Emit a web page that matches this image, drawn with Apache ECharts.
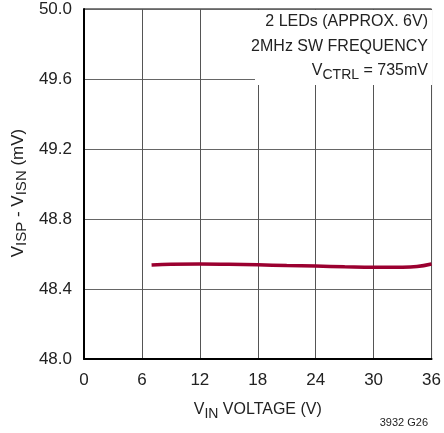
<!DOCTYPE html>
<html><head><meta charset="utf-8">
<script src="https://cdn.jsdelivr.net/npm/echarts@6/dist/echarts.min.js"></script>
<style>html,body{margin:0;padding:0;background:#fff}#c{width:444px;height:433px}</style>
</head><body><div id="c"></div>
<script>
var vin = [7, 9, 12, 15, 18, 21, 24, 27, 30, 33, 34.5, 36];
var vsense = [48.537, 48.541, 48.543, 48.541, 48.538, 48.534, 48.531, 48.527, 48.524, 48.524, 48.528, 48.543];
var xTicks = [0, 6, 12, 18, 24, 30, 36];
var yTicks = [48.0, 48.4, 48.8, 49.2, 49.6, 50.0];
var F = '"Liberation Sans", Arial, sans-serif';
var chart = echarts.init(document.getElementById('c'));
chart.setOption({
  animation: false,
  grid: {left: 84, top: 9, right: 9, bottom: 74, show: true, borderColor: '#000', borderWidth: 1},
  xAxis: {
    type: 'value', min: 0, max: 36, interval: 6,
    axisLine: {show: true, lineStyle: {color: '#000', width: 2}},
    axisTick: {show: false},
    splitLine: {show: true, lineStyle: {color: '#555', width: 1}},
    axisLabel: {color: '#222', fontFamily: F, fontSize: 17, margin: 13},
    name: '{m|V}{s|IN}{m| VOLTAGE (V)}', nameLocation: 'middle', nameGap: 40,
    nameTextStyle: {rich: {m: {fontFamily: F, fontSize: 16, color: '#222'}, s: {fontFamily: F, fontSize: 14, color: '#222', verticalAlign: 'bottom', padding: [8,0,0,0]}}}
  },
  yAxis: {
    type: 'value', min: 48.0, max: 50.0, interval: 0.4,
    axisLine: {show: true, lineStyle: {color: '#000', width: 2}},
    axisTick: {show: false},
    splitLine: {show: true, lineStyle: {color: '#666', width: 1}},
    axisLabel: {color: '#222', fontFamily: F, fontSize: 17, margin: 12, formatter: function(v){return v.toFixed(1);}}
  },
  graphic: [
    {type: 'text', z: 4, x: 18, y: 193, rotation: Math.PI / 2, style: {text: '{m|V}{s|ISP}{m| - V}{s|ISN}{m| (mV)}', align: 'center', verticalAlign: 'middle', fill: '#222',
      rich: {m: {fontFamily: F, fontSize: 17, fill: '#222'}, s: {fontFamily: F, fontSize: 15, fill: '#222', verticalAlign: 'bottom', padding: [8,0,0,0]}}}},
    {type: 'rect', z: 3, shape: {x: 255, y: 10, width: 177, height: 75}, style: {fill: '#fff'}},
    {type: 'text', z: 4, x: 428, y: 22, style: {text: '2 LEDs (APPROX. 6V)', align: 'right', verticalAlign: 'middle', fontFamily: F, fontSize: 16, fill: '#222'}},
    {type: 'text', z: 4, x: 428, y: 47, style: {text: '2MHz SW FREQUENCY', align: 'right', verticalAlign: 'middle', fontFamily: F, fontSize: 16, fill: '#222'}},
    {type: 'text', z: 4, x: 428, y: 71, style: {text: '{m|V}{s|CTRL}{m| = 735mV}', align: 'right', verticalAlign: 'middle', fill: '#222',
      rich: {m: {fontFamily: F, fontSize: 16, fill: '#222'}, s: {fontFamily: F, fontSize: 14, fill: '#222', verticalAlign: 'bottom', padding: [8,0,0,0]}}}},
    {type: 'text', z: 4, x: 428, y: 423, style: {text: '3932 G26', align: 'right', verticalAlign: 'middle', fontFamily: F, fontSize: 11, fill: '#222'}}
  ],
  series: [{
    type: 'line', data: vin.map(function(x, i){return [x, vsense[i]];}),
    smooth: 0.4, showSymbol: false, z: 5,
    lineStyle: {color: '#9b0030', width: 3.5}
  }]
});
</script></body></html>
